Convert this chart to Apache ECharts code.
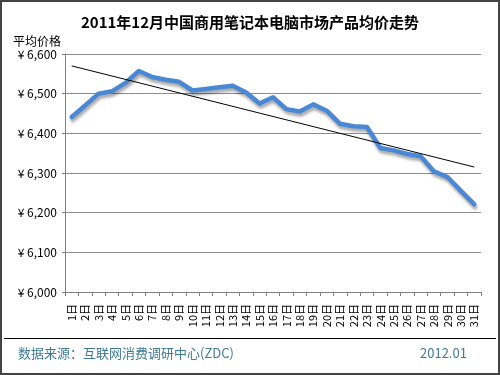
<!DOCTYPE html>
<html>
<head>
<meta charset="utf-8">
<script src="https://cdn.jsdelivr.net/npm/echarts@6/dist/echarts.min.js"></script>
<style>
html,body{margin:0;padding:0;background:#fff;}
#c{width:500px;height:375px;}
</style>
</head>
<body>
<div id="c"></div>
<script>
const days = ['1日','2日','3日','4日','5日','6日','7日','8日','9日','10日','11日','12日','13日','14日','15日','16日','17日','18日','19日','20日','21日','22日','23日','24日','25日','26日','27日','28日','29日','30日','31日'];
const avgPrice = [6441,6470,6500,6506,6527,6557,6542,6535,6530,6508,6512,6516,6520,6503,6475,6491,6461,6455,6473,6457,6424,6418,6416,6363,6357,6348,6342,6304,6290,6255,6221];
const trendStart = 6570;
const trendEnd = 6315;
const yTicks = [6000,6100,6200,6300,6400,6500,6600];
const titleText = '2011年12月中国商用笔记本电脑市场产品均价走势';
const sourceText = '数据来源：互联网消费调研中心(ZDC)';
const dateText = '2012.01';
const yName = '平均价格';

const trendData = days.map((d,i)=> i===0 ? trendStart : (i===days.length-1 ? trendEnd : null));
const FONT = '"Noto Sans CJK SC", "Noto Sans", sans-serif';

const chart = echarts.init(document.getElementById('c'), null, {renderer:'canvas'});
chart.setOption({
  animation:false,
  backgroundColor:'#fff',
  title:{
    text:titleText, left:'center', top:10,
    textStyle:{fontSize:15, fontWeight:'bold', color:'#000', fontFamily:FONT}
  },
  grid:{left:65, right:19, top:54, bottom:83, containLabel:false},
  xAxis:{
    type:'category', data:days, boundaryGap:true,
    axisLine:{lineStyle:{color:'#808080', width:1}},
    axisTick:{show:true, length:4, lineStyle:{color:'#808080'}},
    axisLabel:{rotate:90, margin:12, fontSize:11, color:'#000', fontFamily:FONT, interval:0}
  },
  yAxis:{
    type:'value', min:yTicks[0], max:yTicks[yTicks.length-1], interval:100,
    name:yName, nameLocation:'end', nameGap:7,
    nameTextStyle:{fontSize:12, color:'#000', fontFamily:FONT, align:'right', padding:[0,4,0,0]},
    axisLine:{show:true, lineStyle:{color:'#808080'}},
    axisTick:{show:true, length:3, lineStyle:{color:'#808080'}},
    splitLine:{lineStyle:{color:'#8c8c8c', width:1}},
    axisLabel:{fontSize:12, color:'#000', margin:8, fontFamily:FONT,
      formatter:v=>'¥ ' + v.toLocaleString('en-US')}
  },
  series:[
    {
      type:'line', data:avgPrice, symbol:'none', smooth:false,
      lineStyle:{color:'#4a88d6', width:4.5, join:'round', cap:'round',
        shadowColor:'rgba(0,0,0,0.35)', shadowBlur:3, shadowOffsetY:3, shadowOffsetX:1},
      z:3
    },
    {
      type:'line', data:trendData, connectNulls:true, symbol:'none',
      lineStyle:{color:'#000', width:1},
      z:4
    }
  ],
  graphic:[
    {type:'rect', shape:{x:1, y:1, width:498, height:373}, style:{fill:'none', stroke:'#444', lineWidth:2}, silent:true},
    {type:'line', shape:{x1:4, y1:338.5, x2:496, y2:338.5}, style:{stroke:'#000', lineWidth:1}, silent:true},
    {type:'text', left:18, top:347, style:{text:sourceText, fontSize:13, fill:'#3f7a94', fontFamily:FONT}},
    {type:'text', left:420, top:347, style:{text:dateText, fontSize:13, fill:'#3f7a94', fontFamily:FONT}}
  ]
});
</script>
</body>
</html>
